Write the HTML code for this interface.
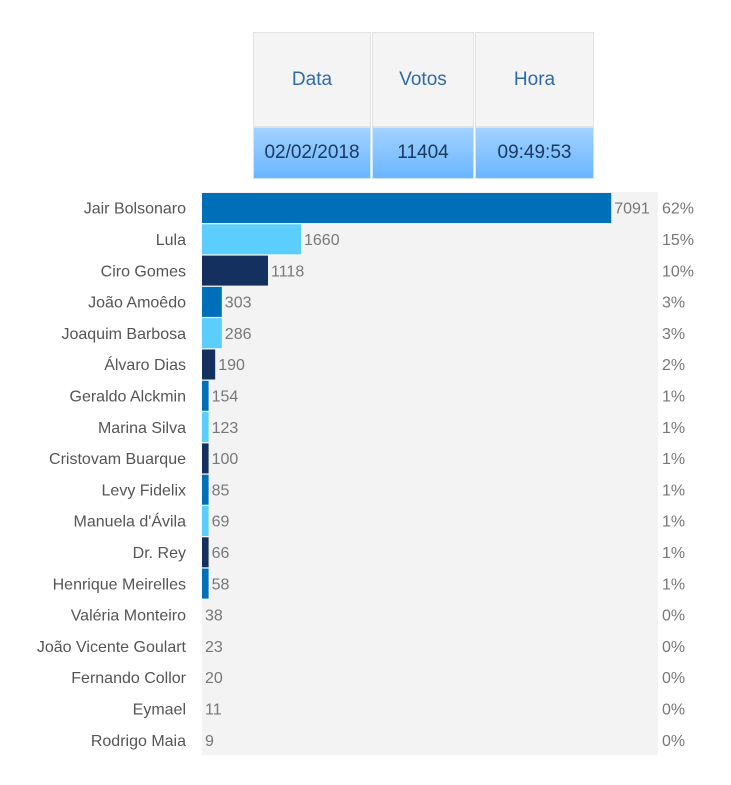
<!DOCTYPE html>
<html><head><meta charset="utf-8"><style>
body{margin:0;width:731px;height:785px;background:#fff;font-family:"Liberation Sans",sans-serif;position:relative;overflow:hidden}
.cell{position:absolute;box-sizing:border-box;display:flex;align-items:center;justify-content:center;font-size:19px}
.h{background:#f4f4f4;border:1px solid #e2e2e2;color:#2f6aa8;top:32px;height:95px}
.d{background:linear-gradient(#a3d2ff,#6ab6ff);border:1px solid #cfe6ff;color:#1b3a62;top:127px;height:52px}
</style></head><body>
<div class="cell h" style="left:253px;width:118px">Data</div>
<div class="cell h" style="left:372px;width:102px">Votos</div>
<div class="cell h" style="left:475px;width:119px">Hora</div>
<div class="cell d" style="left:253px;width:118px">02/02/2018</div>
<div class="cell d" style="left:372px;width:102px">11404</div>
<div class="cell d" style="left:475px;width:119px">09:49:53</div>
<svg id="chart" width="731" height="785" style="position:absolute;left:0;top:0"></svg>
<script>
const candidates=["Jair Bolsonaro","Lula","Ciro Gomes","João Amoêdo","Joaquim Barbosa","Álvaro Dias","Geraldo Alckmin","Marina Silva","Cristovam Buarque","Levy Fidelix","Manuela d'Ávila","Dr. Rey","Henrique Meirelles","Valéria Monteiro","João Vicente Goulart","Fernando Collor","Eymael","Rodrigo Maia"];
const votes=[7091,1660,1118,303,286,190,154,123,100,85,69,66,58,38,23,20,11,9];
const colors=["#006fba","#5bcefd","#14305f"];
const svg=document.getElementById('chart');
const NS="http://www.w3.org/2000/svg";
const total=votes.reduce((a,b)=>a+b,0);
const x0=202,plotW=456,top0=192,pitch=31.3;
const xs=p=>p*6.6;
const ys=i=>top0+i*pitch;
function mk(t,a){const e=document.createElementNS(NS,t);for(const k in a)e.setAttribute(k,a[k]);svg.appendChild(e);return e;}
const bg=mk('rect',{x:x0,y:top0,width:plotW,height:pitch*candidates.length,fill:'#f3f3f3'});


candidates.forEach((c,i)=>{
  const pct=Math.round(votes[i]/total*100);
  const w=xs(pct);
  const y=ys(i);
  const cy=y+pitch/2+6;
  const lab=mk('text',{x:186,y:cy,'text-anchor':'end','font-size':16,fill:'#555'});lab.textContent=c;
  
  
  if(w>0){const b=mk('rect',{x:x0,y:y+1,width:w,height:30,fill:colors[i%3]});
    
    }
  const v=mk('text',{x:x0+w+3,y:cy,'font-size':16,fill:'#777'});v.textContent=votes[i];
  
  
  const p=mk('text',{x:662,y:cy,'font-size':16,fill:'#777'});p.textContent=pct+'%';
  
  
});
</script>
</body></html>
